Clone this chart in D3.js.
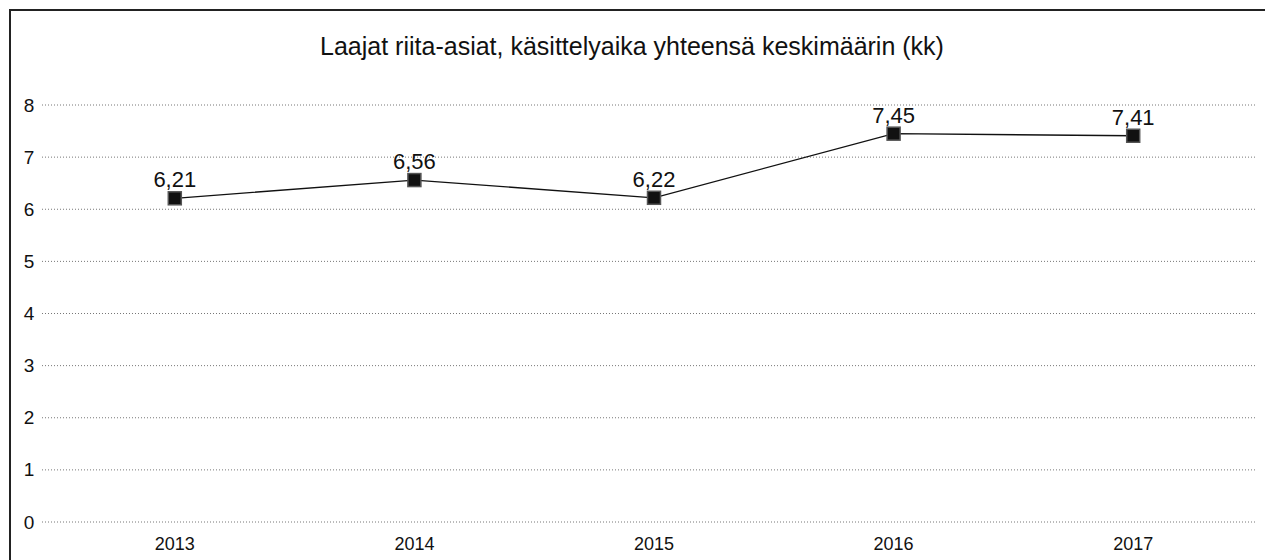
<!DOCTYPE html>
<html><head><meta charset="utf-8">
<script src="https://cdn.jsdelivr.net/npm/d3@7"></script>
<style>body{margin:0;background:#fff}svg{display:block}text{font-family:"Liberation Sans",Arial,sans-serif;fill:#111}</style>
</head><body>
<svg id="c" width="1265" height="560"></svg>
<script>
const title = "Laajat riita-asiat, käsittelyaika yhteensä keskimäärin (kk)";
const years = ["2013","2014","2015","2016","2017"];
const values = [6.21, 6.56, 6.22, 7.45, 7.41];
const yTicks = [0,1,2,3,4,5,6,7,8];

const svg = d3.select("#c");
const x = d3.scaleBand().domain(years).range([55, 1253]);
const y = d3.scaleLinear().domain([0,8]).range([522, 105]);

// frame
svg.append("path").attr("d","M10,560 V10 H1265").attr("fill","none").attr("stroke","#222").attr("stroke-width",2);

svg.append("text").attr("x",632).attr("y",55).attr("text-anchor","middle").attr("font-size",25).text(title);

// gridlines
svg.append("g").selectAll("line").data(yTicks).join("line")
  .attr("x1",42).attr("x2",1257).attr("y1",d=>y(d)).attr("y2",d=>y(d))
  .attr("stroke","#777").attr("stroke-width",1).attr("stroke-dasharray","1,2");

// y axis
const ya = svg.append("g").attr("transform","translate(29,0)")
  .call(d3.axisLeft(y).tickValues(yTicks).tickSize(0).tickPadding(0).tickFormat(d3.format("d")));
ya.select(".domain").remove();
ya.selectAll("text").attr("font-size",19).attr("text-anchor","middle").attr("x",0).attr("fill","#111");

// x axis
const xa = svg.append("g").attr("transform","translate(0,536)")
  .call(d3.axisBottom(x).tickSize(0).tickPadding(0));
xa.select(".domain").remove();
xa.selectAll("text").attr("font-size",18).attr("dy","0.8em").attr("fill","#111");

const pts = years.map((yr,i)=>({yr, v: values[i]}));
const line = d3.line().x(d=>x(d.yr)+x.bandwidth()/2).y(d=>y(d.v));
svg.append("path").datum(pts).attr("d",line).attr("fill","none").attr("stroke","#111").attr("stroke-width",1.3);

svg.append("g").selectAll("rect").data(pts).join("rect")
  .attr("x",d=>x(d.yr)+x.bandwidth()/2-6.5).attr("y",d=>y(d.v)-6.5)
  .attr("width",13).attr("height",13).attr("fill","#111").attr("stroke","#555").attr("stroke-width",1.5);

svg.append("g").selectAll("text").data(pts).join("text")
  .attr("x",d=>x(d.yr)+x.bandwidth()/2).attr("y",d=>y(d.v)-11)
  .attr("text-anchor","middle").attr("font-size",22)
  .text(d=>d3.format(".2f")(d.v).replace(".",","));
</script>
</body></html>
